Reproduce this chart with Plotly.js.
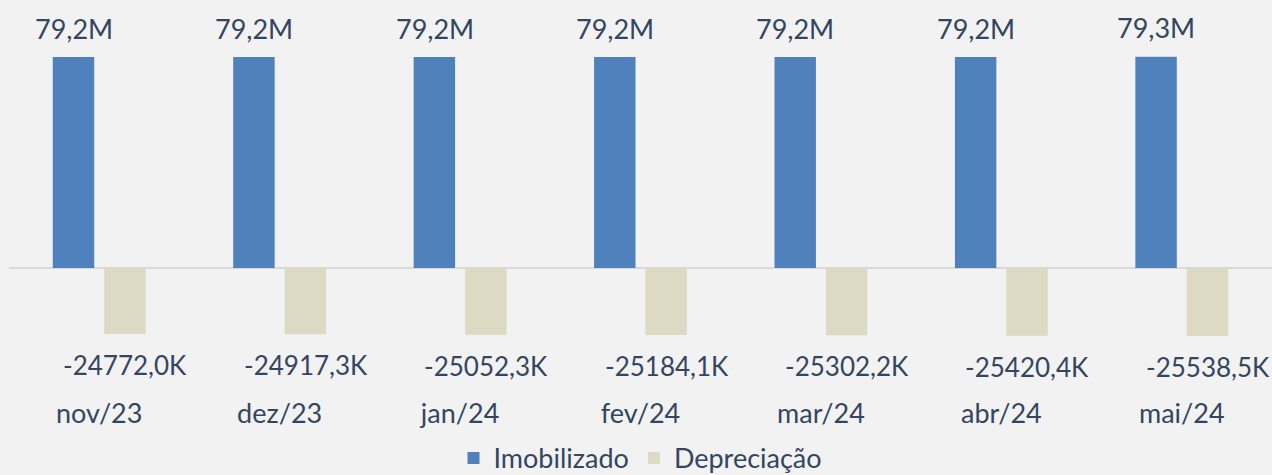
<!DOCTYPE html>
<html>
<head>
<meta charset="utf-8">
<script src="https://cdn.plot.ly/plotly-3.0.1.min.js"></script>
<style>html,body{margin:0;padding:0;background:#f2f2f2;}#chart{width:1272px;height:475px;}</style>
</head>
<body>
<div id="chart"></div>
<script>
const categories = ["nov/23", "dez/23", "jan/24", "fev/24", "mar/24", "abr/24", "mai/24"];
const imobilizado = [79.2e6, 79.2e6, 79.2e6, 79.2e6, 79.2e6, 79.2e6, 79.3e6];
const depreciacao = [-24772.0e3, -24917.3e3, -25052.3e3, -25184.1e3, -25302.2e3, -25420.4e3, -25538.5e3];

const textColor = "#34465f";
const font = "Lato, 'Open Sans', sans-serif";

function fmtM(v) { return (v / 1e6).toFixed(1).replace('.', ',') + 'M'; }
function fmtK(v) { return (v / 1e3).toFixed(1).replace('.', ',') + 'K'; }

const traces = [
  {type: 'bar', name: 'Imobilizado', x: categories, y: imobilizado,
   marker: {color: '#4f81bd'}, hoverinfo: 'none'},
  {type: 'bar', name: 'Depreciação', x: categories, y: depreciacao,
   marker: {color: '#ddd9c3'}, hoverinfo: 'none'}
];

const annotations = [];
categories.forEach((c, i) => {
  annotations.push({x: c, y: imobilizado[i], xref: 'x', yref: 'y', text: fmtM(imobilizado[i]),
    showarrow: false, xshift: -25.5, yshift: 29, yanchor: 'middle',
    font: {family: font, size: 27, color: textColor}});
  annotations.push({x: c, y: depreciacao[i], xref: 'x', yref: 'y', text: fmtK(depreciacao[i]),
    showarrow: false, xshift: 26, yshift: -31, yanchor: 'middle',
    font: {family: font, size: 26, color: textColor}});
});

const layout = {
  width: 1272, height: 475,
  paper_bgcolor: '#f2f2f2', plot_bgcolor: '#f2f2f2',
  margin: {l: 9, r: 0, t: 0, b: 80},
  barmode: 'group', bargap: 0.43, bargroupgap: 0.194,
  font: {family: font, color: textColor},
  xaxis: {type: 'category', range: [-0.5, 6.5], showgrid: false, zeroline: false, showline: false,
    ticks: '', tickfont: {family: font, size: 27, color: textColor}, fixedrange: true},
  yaxis: {range: [-47.7e6, 100.6e6], showgrid: false, showticklabels: false, ticks: '',
    zeroline: true, zerolinecolor: '#d9d9d9', zerolinewidth: 2, showline: false, fixedrange: true},
  showlegend: true,
  legend: {orientation: 'h', x: 0.5, xanchor: 'center', yref: 'container', y: 0.035, yanchor: 'middle',
    font: {family: font, size: 27, color: textColor}, bgcolor: 'rgba(0,0,0,0)', itemclick: false,
    itemwidth: 30, tracegroupgap: 0},
  annotations: annotations
};

Plotly.newPlot('chart', traces, layout, {displayModeBar: false, staticPlot: true});
</script>
</body>
</html>
